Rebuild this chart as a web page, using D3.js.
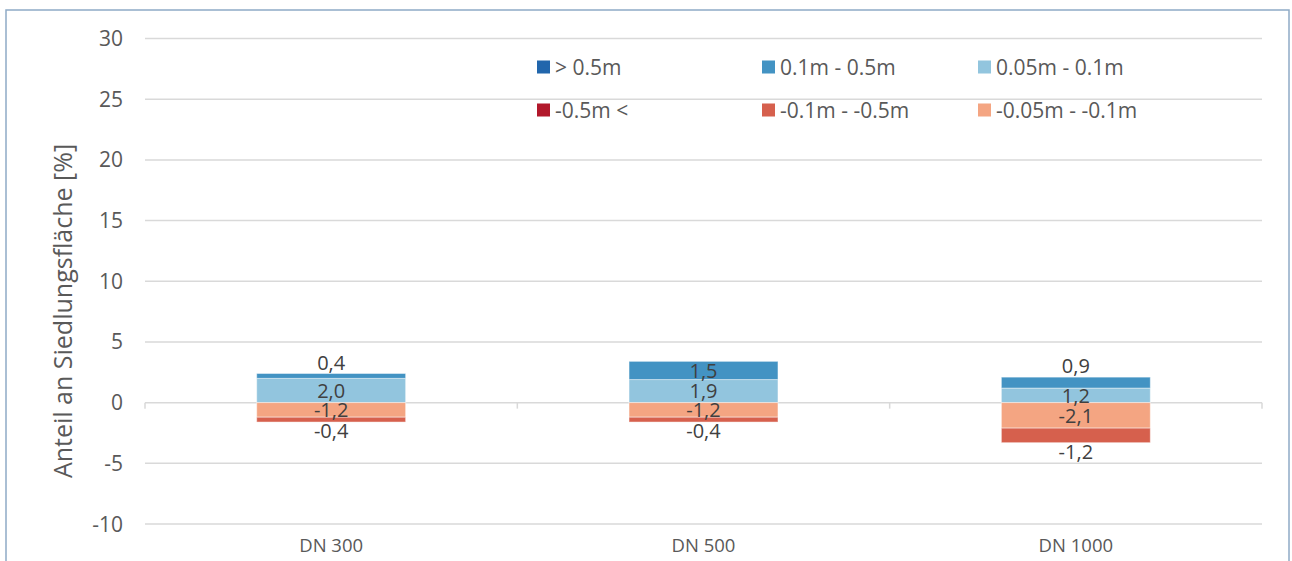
<!DOCTYPE html>
<html>
<head>
<meta charset="utf-8">
<script src="https://cdn.jsdelivr.net/npm/d3@7"></script>
<style>
  html, body { margin: 0; padding: 0; background: #fff; }
  svg { display: block; font-family: "Open Sans", "Noto Sans", sans-serif; }
</style>
</head>
<body>
<svg id="chart" width="1292" height="561"></svg>
<script>
const categories = ["DN 300", "DN 500", "DN 1000"];
const seriesNames = ["> 0.5m", "0.1m - 0.5m", "0.05m - 0.1m", "-0.5m <", "-0.1m - -0.5m", "-0.05m - -0.1m"];
const seriesColors = ["#2166ac", "#4393c3", "#92c5de", "#b2182b", "#d6604d", "#f4a582"];
// values per series, in category order
const vGt05 = [0, 0, 0];
const v01to05 = [0.4, 1.5, 0.9];
const v005to01 = [2.0, 1.9, 1.2];
const vLtM05 = [0, 0, 0];
const vM01toM05 = [-0.4, -0.4, -1.2];
const vM005toM01 = [-1.2, -1.2, -2.1];
const yTicks = [-10, -5, 0, 5, 10, 15, 20, 25, 30];
const yTitle = "Anteil an Siedlungsfläche [%]";

const seriesValues = [vGt05, v01to05, v005to01, vLtM05, vM01toM05, vM005toM01];
// stacking order outward from zero
const posOrder = [2, 1, 0];
const negOrder = [5, 4, 3];

const svg = d3.select("#chart");
const plot = { left: 145, right: 1262, top: 38.5, bottom: 524 };

// outer border
svg.append("rect").attr("x", 6).attr("y", 10).attr("width", 1283).attr("height", 580)
  .attr("fill", "none").attr("stroke", "#8faac6").attr("stroke-width", 1.5);

const y = d3.scaleLinear().domain([-10, 30]).range([plot.bottom, plot.top]);
const x = d3.scaleBand().domain(categories).range([plot.left, plot.right]).paddingInner(0.6).paddingOuter(0.3);
const xOuter = d3.scaleBand().domain(categories).range([plot.left, plot.right]);

// gridlines
svg.append("g").selectAll("line").data(yTicks).join("line")
  .attr("x1", plot.left).attr("x2", plot.right)
  .attr("y1", d => y(d)).attr("y2", d => y(d))
  .attr("stroke", "#d9d9d9").attr("stroke-width", 1.5);

// y tick labels
svg.append("g").selectAll("text").data(yTicks).join("text")
  .attr("x", 123).attr("y", d => y(d)).attr("dy", "0.36em")
  .attr("text-anchor", "end").attr("fill", "#595959").attr("font-size", 21)
  .text(d => d);

// x ticks at band boundaries along zero line
const bounds = categories.map(c => xOuter(c)).concat([plot.right]);
svg.append("g").selectAll("line").data(bounds).join("line")
  .attr("x1", d => d).attr("x2", d => d)
  .attr("y1", y(0)).attr("y2", y(0) + 6)
  .attr("stroke", "#d9d9d9").attr("stroke-width", 1.5);

// category labels
svg.append("g").selectAll("text").data(categories).join("text")
  .attr("x", d => xOuter(d) + xOuter.bandwidth() / 2).attr("y", 545).attr("dy", "0.36em")
  .attr("text-anchor", "middle").attr("fill", "#595959").attr("font-size", 18.5)
  .text(d => d);

// y title
svg.append("text")
  .attr("transform", `translate(63,311) rotate(-90)`)
  .attr("dy", "0.36em").attr("text-anchor", "middle").attr("fill", "#595959").attr("font-size", 25)
  .text(yTitle);

// stacked bars
const segs = [];
categories.forEach((c, ci) => {
  let acc = 0;
  posOrder.forEach((s, k) => {
    const v = seriesValues[s][ci];
    segs.push({ c, s, v, y0: acc, y1: acc + v, outer: posOrder.slice(k + 1).every(t => seriesValues[t][ci] === 0), dir: 1 });
    acc += v;
  });
  acc = 0;
  negOrder.forEach((s, k) => {
    const v = seriesValues[s][ci];
    segs.push({ c, s, v, y0: acc, y1: acc + v, outer: negOrder.slice(k + 1).every(t => seriesValues[t][ci] === 0), dir: -1 });
    acc += v;
  });
});
const visible = segs.filter(d => d.v !== 0);

svg.append("g").selectAll("rect").data(visible).join("rect")
  .attr("x", d => x(d.c)).attr("width", x.bandwidth())
  .attr("y", d => y(Math.max(d.y0, d.y1)))
  .attr("height", d => Math.abs(y(d.y0) - y(d.y1)))
  .attr("fill", d => seriesColors[d.s])
  .attr("stroke", "rgba(255,255,255,0.45)").attr("stroke-width", 1);

const fmt = v => d3.format(".1f")(v).replace(".", ",").replace("−", "-");
svg.append("g").selectAll("text").data(visible).join("text")
  .attr("x", d => x(d.c) + x.bandwidth() / 2)
  .attr("y", d => {
    const hpx = Math.abs(y(d.y0) - y(d.y1));
    if (d.outer && hpx < 16) {
      return d.dir > 0 ? y(d.y1) - 11 : y(d.y1) + 9;
    }
    return y((d.y0 + d.y1) / 2);
  })
  .attr("dy", "0.36em").attr("text-anchor", "middle").attr("fill", "#404040").attr("font-size", 20)
  .text(d => fmt(d.v));

// legend
const legendCols = [537, 762, 978];
const legendRows = [67, 110];
const legendItems = seriesNames.map((n, i) => ({ n, i, col: i % 3, row: Math.floor(i / 3) }));
const lg = svg.append("g").selectAll("g").data(legendItems).join("g")
  .attr("transform", d => `translate(${legendCols[d.col]},${legendRows[d.row]})`);
lg.append("rect").attr("x", 0).attr("y", -6.5).attr("width", 13).attr("height", 13)
  .attr("fill", d => seriesColors[d.i]);
lg.append("text").attr("x", 18).attr("y", 0).attr("dy", "0.36em")
  .attr("fill", "#595959").attr("font-size", 21).text(d => d.n);
</script>
</body>
</html>
